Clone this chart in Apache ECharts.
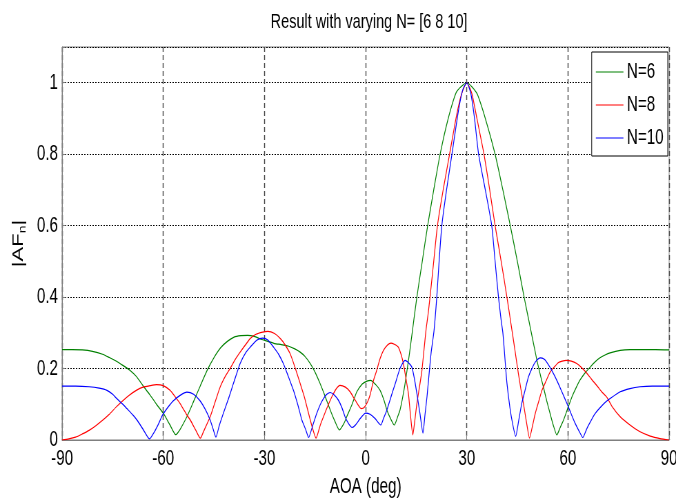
<!DOCTYPE html>
<html>
<head>
<meta charset="utf-8">
<script src="https://cdn.jsdelivr.net/npm/echarts@6/dist/echarts.min.js"></script>
<style>
html,body{margin:0;padding:0;background:#fff;overflow:hidden;width:676px;height:499px}
#chart{width:980px;height:499px;transform:scaleX(0.68980);transform-origin:0 0}
</style>
</head>
<body>
<div id="chart"></div>
<script>
const titleText = 'Result with varying N= [6 8 10]';
const seriesNames = ['N=6', 'N=8', 'N=10'];
const xTicks = [-90, -60, -30, 0, 30, 60, 90];
const yTicks = [0, 0.2, 0.4, 0.6, 0.8, 1];

const aoaN6 = [-90,-87,-84,-81,-78,-76,-74,-72,-70,-68,-66,-64,-62,-60,-58,-56.3,-55,-53,-51,-49,-47,-45,-43,-41,-39,-37,-35,-33,-31,-29,-27,-25,-23,-21,-19.4,-18,-16.4,-15,-13.5,-12,-10.5,-9,-7.8,-6.5,-5.6,-4,-2.6,-1,0.4,1.5,3,4.3,5.5,6.3,7.5,8.5,9.5,10.2,11,11.7,13,13.9,15.2,16.8,18.4,20.2,22.1,24.5,27,30,33,35.5,38.4,40.7,42.9,45,47,49,50,50.8,52,52.7,53.7,54.7,55.7,56.7,57.7,58.7,60,61.2,62.5,63.6,65,66.6,68,69.5,71,72.5,75.5,78.4,82,86,90];
const afN6 = [0.253,0.253,0.252,0.248,0.240,0.231,0.221,0.209,0.196,0.178,0.152,0.127,0.100,0.075,0.042,0.015,0.030,0.065,0.108,0.152,0.195,0.230,0.258,0.276,0.288,0.292,0.293,0.290,0.282,0.276,0.270,0.267,0.263,0.255,0.246,0.234,0.214,0.190,0.158,0.122,0.084,0.050,0.028,0.045,0.065,0.100,0.135,0.157,0.165,0.167,0.155,0.139,0.110,0.084,0.058,0.042,0.065,0.084,0.120,0.158,0.242,0.307,0.400,0.500,0.600,0.700,0.800,0.900,0.975,1.000,0.970,0.900,0.800,0.700,0.600,0.500,0.400,0.307,0.260,0.223,0.175,0.149,0.110,0.074,0.040,0.014,0.035,0.056,0.090,0.121,0.148,0.168,0.187,0.204,0.218,0.230,0.238,0.244,0.251,0.253,0.253,0.253,0.252];

const aoaN8 = [-90,-88,-86,-84,-82,-80,-78,-76,-74,-72,-70,-68,-66,-64,-62,-60,-58,-56,-55,-53,-52,-50.5,-49,-48,-46.1,-44.5,-43.1,-41.5,-40.2,-38.5,-37.2,-35.5,-34.2,-32.5,-30.5,-29,-27,-25.3,-24,-22.4,-21,-19.4,-18,-16.9,-15.8,-14.7,-13.5,-12.5,-11,-10,-8.8,-7.6,-6,-4.6,-3,-1.3,-0.5,0.5,1.3,2.3,3.3,4.3,5.3,6.5,7.5,8.5,9.7,10.5,11.2,12,12.7,13.3,14,14.6,15.2,16,16.7,17.9,18.5,19.1,20.2,21.3,23,24.9,27,28.5,30,31.5,33,35.1,36.8,38.4,40.2,41.9,43.4,44.3,45.3,46,46.8,47.7,48.6,49.5,50.3,51.3,52.3,53.5,54.7,56,57.2,58.3,59.5,61,62.6,64,65.6,67,68.6,70,71.5,73,75.5,78.4,81.4,84.4,87.3,90];
const afN8 = [0,0.003,0.008,0.017,0.027,0.040,0.055,0.072,0.092,0.110,0.126,0.139,0.148,0.152,0.155,0.152,0.139,0.115,0.102,0.070,0.056,0.030,0.005,0.025,0.065,0.110,0.149,0.180,0.200,0.228,0.246,0.268,0.284,0.296,0.302,0.304,0.298,0.284,0.268,0.242,0.205,0.158,0.115,0.074,0.035,0.005,0.040,0.065,0.100,0.121,0.142,0.153,0.148,0.135,0.110,0.088,0.090,0.105,0.125,0.165,0.195,0.228,0.251,0.266,0.271,0.268,0.260,0.240,0.214,0.170,0.130,0.070,0.014,0.055,0.102,0.150,0.195,0.307,0.350,0.400,0.500,0.600,0.700,0.800,0.910,0.970,1.000,0.970,0.900,0.800,0.700,0.600,0.500,0.400,0.307,0.250,0.186,0.145,0.102,0.050,0.005,0.040,0.074,0.107,0.139,0.165,0.190,0.205,0.217,0.221,0.223,0.221,0.214,0.203,0.187,0.170,0.152,0.135,0.120,0.095,0.065,0.042,0.023,0.011,0.004,0];

const aoaN10 = [-90,-86,-82,-79,-76.7,-75,-73.8,-72,-70.8,-69,-67.8,-66,-64.1,-62.5,-61.4,-60.2,-58.5,-57,-55,-53,-51,-49.1,-47.5,-46.1,-45.2,-44.4,-43.4,-42.2,-40.5,-39.2,-37.2,-35.5,-34.2,-32.3,-30.5,-29,-27.3,-25.8,-24.4,-23,-21.4,-20,-18.9,-17.8,-16.9,-15.7,-14.5,-13.5,-12.5,-11.5,-10.5,-9.3,-8.1,-7,-6.1,-5,-4,-3,-1.6,0,1.3,2.8,4.5,5.3,6.3,7.5,8.8,10.2,11.7,12.5,13.7,14.5,15.2,16.1,17,17.6,18.2,19.4,20.3,21.1,21.8,22.6,24,25.6,27.5,28.8,30,31.2,32.3,33.5,35.5,37.4,38.4,39.4,40.2,40.7,41.3,41.9,42.8,43.6,44.5,45.4,46.3,47.3,48.3,49.3,50.3,51.8,53,53.7,55.2,56.7,58.2,59.7,61,62.1,63.3,64.4,65.5,66.6,68,69.5,71,72.5,75.5,78.4,81.4,85,90];
const afN10 = [0.151,0.151,0.149,0.145,0.139,0.128,0.116,0.100,0.088,0.070,0.056,0.030,0.003,0.025,0.045,0.070,0.093,0.110,0.125,0.134,0.128,0.110,0.085,0.056,0.030,0.008,0.040,0.074,0.120,0.158,0.214,0.245,0.260,0.279,0.285,0.280,0.260,0.240,0.214,0.180,0.139,0.095,0.056,0.030,0.007,0.040,0.074,0.098,0.116,0.128,0.133,0.126,0.112,0.090,0.065,0.045,0.035,0.042,0.060,0.075,0.072,0.060,0.042,0.060,0.084,0.120,0.158,0.200,0.223,0.218,0.204,0.170,0.130,0.075,0.019,0.070,0.121,0.242,0.307,0.400,0.500,0.600,0.700,0.800,0.920,0.980,1.000,0.970,0.900,0.800,0.700,0.600,0.500,0.400,0.335,0.300,0.230,0.160,0.090,0.045,0.010,0.055,0.102,0.140,0.177,0.200,0.218,0.230,0.226,0.218,0.195,0.167,0.135,0.102,0.072,0.047,0.025,0.007,0.030,0.050,0.073,0.090,0.105,0.116,0.135,0.144,0.149,0.151,0.151];

const FONT = "'Liberation Sans', Arial, sans-serif";
const colors = ['#008000', '#ff0000', '#0000ff'];

function zip(xs, ys) { return xs.map((x, i) => [x, ys[i]]); }
const seriesData = [zip(aoaN6, afN6), zip(aoaN8, afN8), zip(aoaN10, afN10)];

const chart = echarts.init(document.getElementById('chart'), null, { renderer: 'canvas', width: 980, height: 499 });
chart.setOption({
  animation: false,
  backgroundColor: '#fff',
  title: {
    text: titleText,
    left: 530,
    top: 7,
    textAlign: 'center',
    textStyle: { fontFamily: FONT, fontSize: 21, fontWeight: 'normal', color: '#000' }
  },
  legend: {
    data: seriesNames,
    orient: 'vertical',
    right: 12,
    top: 52,
    icon: 'rect',
    itemWidth: 40,
    itemHeight: 1,
    itemGap: 11,
    padding: [9, 6, 7, 6],
    borderColor: '#000',
    borderWidth: 1,
    borderRadius: 0,
    backgroundColor: '#fff',
    textStyle: { fontFamily: FONT, fontSize: 22, color: '#000' }
  },
  grid: { left: 90, right: 10, top: 47, bottom: 59, show: true, borderColor: '#7f7f7f', borderWidth: 1, containLabel: false, outerBoundsMode: 'none' },
  xAxis: {
    type: 'value',
    min: xTicks[0],
    max: xTicks[xTicks.length - 1],
    interval: 30,
    name: 'AOA (deg)',
    nameLocation: 'middle',
    nameGap: 36,
    nameTextStyle: { fontFamily: FONT, fontSize: 22, color: '#000' },
    axisLine: { onZero: false, lineStyle: { color: '#7f7f7f' } },
    axisTick: { inside: true, length: 5, lineStyle: { color: '#7f7f7f' } },
    axisLabel: { fontFamily: FONT, fontSize: 22, color: '#000', margin: 8 },
    splitLine: { show: true, lineStyle: { color: '#4a4a4a', type: [5, 3], width: 1.45 } }
  },
  yAxis: {
    type: 'value',
    min: 0,
    max: 1.1,
    interval: 0.2,
    name: '|AF{s|n}|',
    nameLocation: 'middle',
    nameGap: 50,
    nameRotate: 90,
    nameTextStyle: { fontFamily: FONT, fontSize: 22, color: '#000', rich: { s: { fontFamily: FONT, fontSize: 14, color: '#000', padding: [12, 0, 0, 0] } } },
    axisLine: { show: true, onZero: false, lineStyle: { color: '#7f7f7f' } },
    axisTick: { show: true, inside: true, length: 5, lineStyle: { color: '#7f7f7f' } },
    axisLabel: {
      fontFamily: FONT, fontSize: 22, color: '#000', margin: 6,
      formatter: function (v) { return yTicks.some(t => Math.abs(t - v) < 1e-6) ? String(Math.round(v * 10) / 10) : ''; }
    },
    splitLine: { show: true, lineStyle: { color: '#000', type: [2, 2], width: 1 } }
  },
  series: seriesNames.map((name, i) => ({
    name: name,
    type: 'line',
    data: seriesData[i],
    symbol: 'none',
    smooth: 0.2,
    color: colors[i],
    lineStyle: { color: colors[i], width: 1.2 },
    z: 3 + i
  }))
});
</script>
</body>
</html>
